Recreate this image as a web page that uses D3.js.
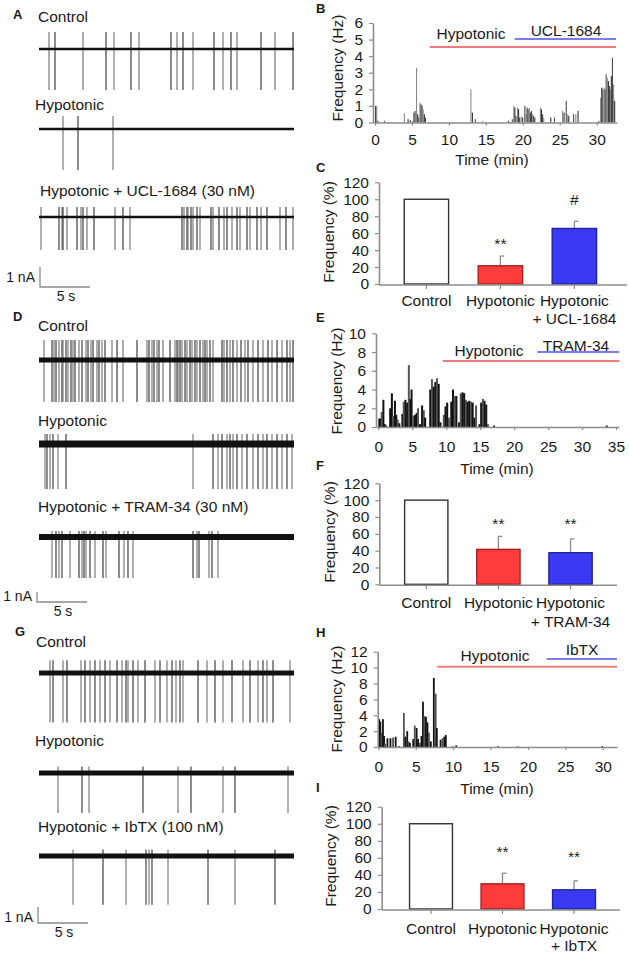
<!DOCTYPE html>
<html>
<head>
<meta charset="utf-8">
<script src="https://cdn.jsdelivr.net/npm/d3@7"></script>
<style>
  body { margin: 0; background: #fff; }
  svg text { font-family: "Liberation Sans", Arial, sans-serif; fill: #1a1a1a; }
</style>
</head>
<body>
<svg id="fig" width="629" height="953"></svg>
<script>
// ---------- data ----------
// spike times in seconds for each current trace
var aControl = [1.0, 1.6, 4.4, 6.7, 7.5, 9.2, 10.0, 13.2, 13.8, 14.4, 15.4, 17.5, 18.4, 19.2, 19.8, 22.2, 23.6, 25.4];
var aHypo = [2.4, 3.9, 7.4];
var aUcl = [0.2, 2.0, 2.3, 2.4, 2.8, 3.8, 4.2, 4.4, 4.8, 5.5, 7.6, 8.4, 9.1, 14.3, 14.5, 14.8, 14.9, 15.2, 15.4, 15.8,
  16.1, 17.2, 17.4, 18.0, 18.5, 18.8, 19.3, 19.8, 20.1, 20.8, 21.1, 21.8, 22.2, 22.8, 24.1, 24.7, 25.4];
var dControl = [0.5, 1.3, 1.5, 1.7, 2.0, 2.3, 2.4, 2.7, 2.9, 3.2, 3.4, 3.6, 4.0, 4.3, 4.7, 4.9, 5.2, 5.4, 5.8, 6.0,
  6.3, 6.6, 7.3, 7.8, 8.4, 9.8, 10.8, 11.0, 11.3, 11.5, 11.8, 12.0, 12.4, 13.1, 13.6, 13.8, 13.9, 14.1, 14.3, 14.6,
  14.8, 15.1, 15.3, 15.6, 15.8, 16.1, 16.4, 16.6, 16.8, 17.1, 17.4, 18.3, 18.5, 18.8, 19.1, 19.4, 19.8, 20.2, 20.6,
  20.9, 21.4, 21.9, 22.4, 22.9, 23.3, 23.8, 24.3, 24.8, 25.1, 25.4];
var dHypo = [0.6, 0.8, 1.1, 1.4, 1.9, 2.7, 15.4, 17.4, 17.9, 18.3, 18.8, 19.1, 19.4, 19.8, 20.3, 20.8, 21.4, 21.9,
  22.4, 22.8, 23.3, 23.8, 24.3, 24.8, 25.3];
var dTram = [1.3, 1.7, 2.0, 2.3, 3.1, 4.0, 4.3, 4.5, 4.7, 5.1, 5.6, 6.4, 6.7, 8.0, 8.5, 8.9, 9.4, 15.4, 15.8, 16.0,
  17.0, 17.3, 17.9];
var gControl = [1.1, 1.4, 2.4, 2.8, 4.2, 4.6, 5.1, 5.6, 6.1, 6.6, 7.1, 7.8, 8.3, 8.7, 8.9, 9.4, 9.9, 10.6, 11.6, 12.1,
  12.8, 13.3, 13.7, 14.1, 14.4, 15.9, 16.8, 17.6, 18.4, 19.3, 20.4, 21.1, 21.9, 22.4, 22.8, 23.4, 25.1];
var gHypo = [1.9, 4.3, 5.0, 10.4, 13.9, 15.2, 18.4, 19.6, 24.9];
var gIbtx = [3.4, 6.4, 8.7, 10.7, 11.0, 11.3, 12.9, 16.9, 19.6, 23.6];

// firing-rate histograms: [time (min), frequency (Hz)]
var bRate = [[0.0,1.0],[0.15,1.0],[0.3,0.1],[1.2,0.1],[3.9,0.55],[4.4,0.2],[4.7,0.15],[5.0,0.1],[5.2,0.6],
  [5.35,0.7],[5.55,3.3],[5.7,0.5],[5.85,0.3],[6.0,1.2],[6.15,1.1],[6.3,1.0],[6.45,0.8],[6.6,0.5],[6.75,0.3],
  [12.9,2.0],[13.1,0.6],[13.5,0.2],[14.5,0.1],[18.0,0.1],[18.5,0.2],[18.7,1.0],[18.85,0.9],[19.0,0.4],[19.2,0.9],
  [19.35,0.8],[19.5,0.3],[19.7,0.35],[19.9,0.3],[20.2,1.0],[20.35,0.5],[20.5,0.9],[20.65,0.8],[20.8,0.9],
  [20.95,0.6],[21.1,0.7],[21.25,0.5],[21.4,0.4],[21.55,0.3],[22.3,0.9],[22.45,0.8],[22.6,0.5],[22.75,0.3],
  [23.7,0.3],[24.2,0.3],[25.3,0.7],[25.5,0.6],[25.8,1.3],[26.0,0.5],[26.15,0.4],[26.8,0.5],[27.1,0.5],[27.4,0.7],
  [30.2,0.1],[30.45,1.5],[30.6,2.1],[30.75,2.0],[30.9,2.1],[31.05,2.0],[31.2,2.9],[31.35,2.7],[31.5,2.5],
  [31.65,2.2],[31.8,2.0],[31.9,2.8],[32.05,3.9],[32.2,2.3],[32.35,1.3]];
var eRate = [[0.0,0.9],[0.15,0.9],[0.35,1.6],[0.6,2.9],[0.8,0.3],[1.0,0.2],[1.6,2.0],[1.85,3.6],[2.05,1.2],
  [2.3,2.8],[2.5,1.3],[2.7,0.8],[2.95,0.4],[3.4,1.4],[3.6,2.7],[3.85,2.9],[4.1,2.6],[4.35,6.6],[4.6,3.0],[4.75,4.0],
  [5.0,1.2],[5.25,1.3],[5.5,1.5],[5.7,2.0],[6.0,0.3],[6.3,2.3],[6.55,1.8],[6.75,1.0],[7.5,4.0],[7.75,5.1],
  [8.0,4.3],[8.25,4.8],[8.5,5.2],[8.75,4.6],[9.0,0.5],[9.5,1.3],[9.75,2.2],[10.0,2.6],[10.25,1.0],[10.6,2.7],
  [10.85,4.0],[11.1,3.3],[11.35,3.3],[11.75,0.5],[12.0,3.6],[12.25,3.7],[12.5,3.6],[12.75,2.9],[13.0,2.7],
  [13.25,2.8],[13.5,2.7],[13.75,2.6],[14.0,1.0],[14.25,2.3],[14.75,0.3],[15.0,2.6],[15.25,3.0],[15.5,2.8],
  [15.75,2.4],[16.0,0.3],[16.9,0.15],[33.5,0.15]];
var hRate = [[0.0,3.5],[0.15,3.2],[0.3,1.8],[0.5,3.5],[0.65,1.4],[0.8,0.4],[1.1,1.1],[1.5,1.1],[1.85,1.2],
  [2.2,1.3],[2.65,0.1],[3.3,4.3],[3.5,1.3],[3.75,2.0],[3.95,0.7],[4.1,0.5],[4.55,1.0],[4.75,2.7],[5.0,2.4],
  [5.2,1.0],[5.45,0.5],[5.65,1.4],[5.85,5.7],[6.05,3.9],[6.25,3.8],[6.45,3.1],[6.65,1.8],[6.9,0.7],[7.3,8.7],
  [7.55,6.7],[7.7,2.4],[8.2,0.9],[8.45,1.1],[8.7,1.3],[8.9,1.5],[9.8,0.1],[10.3,0.2],[15.9,0.1],[18.5,0.1],
  [29.8,0.1]];

// treatment periods (min): [hypotonic start, drug start, end]
var bPeriods = [7.4, 18.9, 32.6];
var ePeriods = [9.5, 23.4, 35.5];
var hPeriods = [7.9, 22.5, 31.9];

// summary bars (% of control)
var cCats = ["Control", "Hypotonic", "Hypotonic|+ UCL-1684"];
var cMeans = [100, 21.5, 65.5];
var cErr = [0, 11.5, 8.5];
var cSig = ["", "**", "#"];
var fCats = ["Control", "Hypotonic", "Hypotonic|+ TRAM-34"];
var fMeans = [100, 41.5, 37.5];
var fErr = [0, 15.5, 16.5];
var fSig = ["", "**", "**"];
var iCats = ["Control", "Hypotonic", "Hypotonic|+ IbTX"];
var iMeans = [100, 29.5, 22.5];
var iErr = [0, 12.5, 10.5];
var iSig = ["", "**", "**"];

var barTicks = [0, 20, 40, 60, 80, 100, 120];
var timeTicks30 = [0, 5, 10, 15, 20, 25, 30];
var timeTicks35 = [0, 5, 10, 15, 20, 25, 30, 35];

// ---------- drawing ----------
var svg = d3.select("#fig");
svg.append("rect").attr("width", 629).attr("height", 953).attr("fill", "#fff");

var FS = "15.5px";
var intFmt = d3.format("d");
var barFill = ["#ffffff", "#ff3c3c", "#3a3af2"];
var barStroke = ["#333333", "#a82020", "#22229a"];

function panelLetter(t, x, y) {
  svg.append("text").attr("x", x).attr("y", y).style("font-size", "13px")
    .style("font-weight", "bold").text(t);
}

// trace time axis: 0..25.5 s, 10 px per second
var tx = d3.scaleLinear().domain([0, 25.5]).range([39, 294]);

function drawTrace(tr) {
  var g = svg.append("g");
  var y = d3.scaleLinear().domain([0, 1]).range([tr.base, tr.base - tr.gain]);
  g.append("text").attr("x", tr.lx).attr("y", tr.ly).style("font-size", FS).text(tr.label);
  g.selectAll("line.spk").data(tr.spikes).enter().append("line")
    .attr("class", "spk")
    .attr("x1", function(d) { return tx(d); })
    .attr("x2", function(d) { return tx(d); })
    .attr("y1", y(tr.up)).attr("y2", y(-tr.down))
    .attr("stroke", function(d, i) { return i % 2 ? "#2e2e2e" : "#6e6e6e"; })
    .attr("stroke-width", 1.1);
  g.append("line").attr("x1", tx(0)).attr("x2", tx(25.5))
    .attr("y1", tr.base).attr("y2", tr.base)
    .attr("stroke", "#111").attr("stroke-width", tr.noise);
}

function scaleBar(sb) {
  var g = svg.append("g");
  var len = tx(5) - tx(0);
  g.append("path")
    .attr("d", "M" + sb.x + "," + (sb.y - sb.gain) + "V" + sb.y + "H" + (sb.x + len))
    .attr("fill", "none").attr("stroke", "#8a8a8a").attr("stroke-width", 1.3);
  g.append("text").attr("x", sb.x - 5).attr("y", sb.ny).attr("text-anchor", "end")
    .style("font-size", "14px").text("1 nA");
  g.append("text").attr("x", sb.x + 26).attr("y", sb.y + 14).attr("text-anchor", "middle")
    .style("font-size", "14px").text("5 s");
}

function styleAxis(sel) {
  sel.select(".domain").attr("stroke", "#8c8c8c").attr("stroke-width", 1.6);
  sel.selectAll(".tick line").attr("stroke", "#8c8c8c").attr("stroke-width", 1.2);
  sel.selectAll(".tick text").style("font-size", FS).attr("fill", "#1a1a1a")
    .style("font-family", '"Liberation Sans", Arial, sans-serif');
}

function yTitle(txt, xb, cy) {
  svg.append("text").attr("transform", "translate(" + xb + "," + cy + ") rotate(-90)")
    .attr("text-anchor", "middle").style("font-size", FS).text(txt);
}

function histPanel(p) {
  var g = svg.append("g");
  var x = d3.scaleLinear().domain(p.xd).range(p.xr);
  var y = d3.scaleLinear().domain(p.yd).range(p.yr);
  g.selectAll("rect.bin").data(p.data).enter().append("rect")
    .attr("x", function(d) { return x(d[0]); })
    .attr("width", p.bw)
    .attr("y", function(d) { return y(d[1]); })
    .attr("height", function(d) { return y(0) - y(d[1]); })
    .attr("fill", function(d, i) { return p.colors[i % p.colors.length]; });
  var ya = g.append("g").attr("transform", "translate(" + p.xr[0] + ",0)")
    .call(d3.axisLeft(y).tickValues(p.yTicks).tickFormat(intFmt)
      .tickSize(4).tickPadding(6).tickSizeOuter(0));
  styleAxis(ya);
  var xa = g.append("g").attr("transform", "translate(0," + p.yr[0] + ")")
    .call(d3.axisBottom(x).tickValues(p.xTicks).tickFormat(intFmt)
      .tickSize(3).tickPadding(p.xpad).tickSizeOuter(0));
  styleAxis(xa);
  yTitle("Frequency (Hz)", p.titleX, p.titleY);
  g.append("text").attr("x", p.timeX).attr("y", p.timeY).attr("text-anchor", "middle")
    .style("font-size", FS).text("Time (min)");
  // treatment bars
  g.append("line").attr("x1", x(p.periods[0])).attr("x2", x(p.periods[2]))
    .attr("y1", p.redY).attr("y2", p.redY).attr("stroke", "#f27a7a").attr("stroke-width", 2);
  g.append("line").attr("x1", x(p.periods[1])).attr("x2", x(p.periods[2]))
    .attr("y1", p.blueY).attr("y2", p.blueY).attr("stroke", "#7b7bf0").attr("stroke-width", 2);
  g.append("text").attr("x", p.hypoX).attr("y", p.hypoY).attr("text-anchor", "middle")
    .style("font-size", FS).text("Hypotonic");
  g.append("text").attr("x", p.drugX).attr("y", p.drugY).attr("text-anchor", "middle")
    .style("font-size", FS).text(p.drug);
}

function barPanel(p) {
  var g = svg.append("g");
  var x = d3.scaleBand().domain(d3.range(p.cats.length)).range(p.xr)
    .paddingInner(0.4).paddingOuter(0.2);
  var y = d3.scaleLinear().domain([0, 120]).range(p.yr);
  var bw = x.bandwidth();
  g.selectAll("line.err").data(p.means).enter().append("line")
    .attr("x1", function(d, i) { return x(i) + bw / 2; })
    .attr("x2", function(d, i) { return x(i) + bw / 2; })
    .attr("y1", function(d) { return y(d); })
    .attr("y2", function(d, i) { return y(d + p.err[i]); })
    .attr("stroke", "#8a8a8a").attr("stroke-width", 1.3)
    .style("display", function(d, i) { return p.err[i] ? null : "none"; });
  g.selectAll("line.cap").data(p.means).enter().append("line")
    .attr("x1", function(d, i) { return x(i) + bw / 2; })
    .attr("x2", function(d, i) { return x(i) + bw / 2 + 4; })
    .attr("y1", function(d, i) { return y(d + p.err[i]); })
    .attr("y2", function(d, i) { return y(d + p.err[i]); })
    .attr("stroke", "#8a8a8a").attr("stroke-width", 1.3)
    .style("display", function(d, i) { return p.err[i] ? null : "none"; });
  g.selectAll("rect.bar").data(p.means).enter().append("rect")
    .attr("x", function(d, i) { return x(i); })
    .attr("width", bw)
    .attr("y", function(d) { return y(d); })
    .attr("height", function(d) { return y(0) - y(d); })
    .attr("fill", function(d, i) { return barFill[i]; })
    .attr("stroke", function(d, i) { return barStroke[i]; })
    .attr("stroke-width", 1.4);
  g.selectAll("text.sig").data(p.sig).enter().append("text")
    .attr("x", function(d, i) { return x(i) + bw / 2; })
    .attr("y", function(d, i) { return y(p.means[i] + p.err[i]) - p.sigOff[i]; })
    .attr("text-anchor", "middle").style("font-size", FS).text(function(d) { return d; });
  var ya = g.append("g").attr("transform", "translate(" + p.ax + ",0)")
    .call(d3.axisLeft(y).tickValues(barTicks).tickFormat(intFmt)
      .tickSize(4).tickPadding(6).tickSizeOuter(0));
  styleAxis(ya);
  g.append("line").attr("x1", p.ax).attr("x2", p.axEnd).attr("y1", y(0) + 1).attr("y2", y(0) + 1)
    .attr("stroke", "#8c8c8c").attr("stroke-width", 1.6);
  g.selectAll("line.xt").data(p.cats).enter().append("line")
    .attr("x1", function(d, i) { return x(i) + bw / 2; })
    .attr("x2", function(d, i) { return x(i) + bw / 2; })
    .attr("y1", y(0) + 1).attr("y2", y(0) + 5)
    .attr("stroke", "#8c8c8c").attr("stroke-width", 1.2);
  var lab = g.selectAll("text.cat").data(p.cats).enter().append("text")
    .attr("text-anchor", "middle").style("font-size", FS);
  lab.each(function(d, i) {
    var parts = d.split("|");
    var t = d3.select(this);
    parts.forEach(function(s, k) {
      t.append("tspan").attr("x", x(i) + bw / 2)
        .attr("y", y(0) + p.labGap + k * p.lineGap).text(s);
    });
  });
  yTitle("Frequency (%)", p.titleX, p.titleY);
}

// ----- A -----
panelLetter("A", 13, 19);
drawTrace({ label: "Control", lx: 38, ly: 22, spikes: aControl, base: 49, gain: 20, up: 0.85, down: 2.05, noise: 2.6 });
drawTrace({ label: "Hypotonic", lx: 35, ly: 110, spikes: aHypo, base: 129, gain: 20, up: 0.65, down: 2.05, noise: 2.6 });
drawTrace({ label: "Hypotonic + UCL-1684 (30 nM)", lx: 40, ly: 196, spikes: aUcl, base: 217, gain: 20, up: 0.5, down: 1.65, noise: 2.6 });
scaleBar({ x: 40, y: 287, gain: 20, ny: 282 });

// ----- D -----
panelLetter("D", 13, 321);
drawTrace({ label: "Control", lx: 38, ly: 331, spikes: dControl, base: 360, gain: 10, up: 2.0, down: 4.2, noise: 5 });
drawTrace({ label: "Hypotonic", lx: 38, ly: 426, spikes: dHypo, base: 444, gain: 10, up: 1.0, down: 4.5, noise: 7 });
drawTrace({ label: "Hypotonic + TRAM-34 (30 nM)", lx: 38, ly: 512, spikes: dTram, base: 537, gain: 10, up: 0.6, down: 4.1, noise: 6 });
scaleBar({ x: 37, y: 602, gain: 10, ny: 601 });

// ----- G -----
panelLetter("G", 15, 636);
drawTrace({ label: "Control", lx: 36, ly: 647, spikes: gControl, base: 673, gain: 16, up: 0.8, down: 3.1, noise: 5 });
drawTrace({ label: "Hypotonic", lx: 35, ly: 746, spikes: gHypo, base: 773, gain: 16, up: 0.4, down: 2.5, noise: 5 });
drawTrace({ label: "Hypotonic + IbTX (100 nM)", lx: 38, ly: 832, spikes: gIbtx, base: 856, gain: 16, up: 0.4, down: 3.05, noise: 5 });
scaleBar({ x: 38, y: 923, gain: 16, ny: 922 });

// ----- B, E, H -----
panelLetter("B", 316, 13);
histPanel({ data: bRate, xd: [-0.27, 32.7], xr: [373, 616.7], yd: [0, 6], yr: [122.5, 23],
  yTicks: [0, 1, 2, 3, 4, 5, 6], xTicks: timeTicks30, xpad: 8, bw: 1.1, colors: ["#4a4a4a", "#8a8a8a", "#333"],
  titleX: 343, titleY: 68, timeX: 492, timeY: 165, periods: bPeriods, redY: 47, blueY: 39,
  hypoX: 471, hypoY: 39, drugX: 566, drugY: 36, drug: "UCL-1684" });

panelLetter("E", 316, 322);
histPanel({ data: eRate, xd: [-0.34, 35.45], xr: [376, 619], yd: [0, 10], yr: [427, 333.3],
  yTicks: [0, 2, 4, 6, 8, 10], xTicks: timeTicks35, xpad: 11, bw: 2, colors: ["#111", "#111", "#555"],
  titleX: 342, titleY: 381, timeX: 497, timeY: 474, periods: ePeriods, redY: 361, blueY: 352,
  hypoX: 489, hypoY: 356, drugX: 576, drugY: 350.5, drug: "TRAM-34" });

panelLetter("H", 316, 637);
histPanel({ data: hRate, xd: [-0.08, 31.9], xr: [377.7, 617], yd: [0, 12], yr: [747, 651.7],
  yTicks: [0, 2, 4, 6, 8, 10, 12], xTicks: timeTicks30, xpad: 11, bw: 1.8, colors: ["#111", "#111", "#555"],
  titleX: 342, titleY: 699, timeX: 497, timeY: 794, periods: hPeriods, redY: 666.7, blueY: 659,
  hypoX: 495, hypoY: 661, drugX: 582, drugY: 655, drug: "IbTX" });

// ----- C, F, I -----
panelLetter("C", 316, 172);
barPanel({ cats: cCats, means: cMeans, err: cErr, sig: cSig, sigOff: [0, 7.2, 15.9],
  xr: [389.4, 611.4], yr: [284, 182.3], ax: 379, axEnd: 627, labGap: 21.7, lineGap: 18.5,
  titleX: 334, titleY: 232 });

panelLetter("F", 316, 470);
barPanel({ cats: fCats, means: fMeans, err: fErr, sig: fSig, sigOff: [0, 7.5, 10],
  xr: [390.2, 606.6], yr: [584.3, 483.3], ax: 379.3, axEnd: 617, labGap: 23.4, lineGap: 19,
  titleX: 334.5, titleY: 532 });

panelLetter("I", 316, 792);
barPanel({ cats: iCats, means: iMeans, err: iErr, sig: iSig, sigOff: [0, 16, 18.8],
  xr: [395.25, 609.75], yr: [909, 806.7], ax: 381.7, axEnd: 620, labGap: 25, lineGap: 17,
  titleX: 335.5, titleY: 856 });
</script>
</body>
</html>
